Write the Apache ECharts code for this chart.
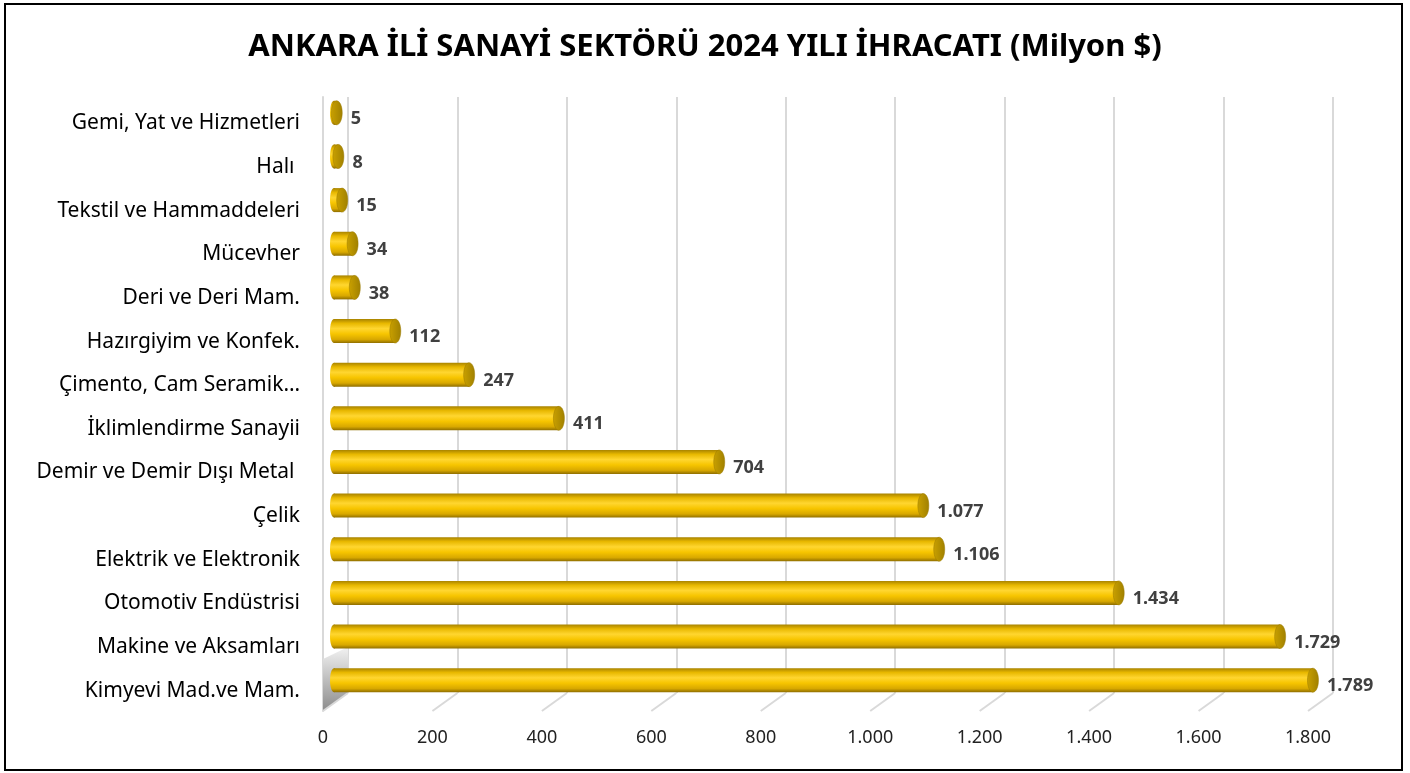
<!DOCTYPE html>
<html><head><meta charset="utf-8">
<script src="https://cdn.jsdelivr.net/npm/echarts@6/dist/echarts.min.js"></script>
<style>
html,body{margin:0;padding:0;background:#fff;}
#chart{position:absolute;left:0;top:0;width:1410px;height:773px;}
#frame{position:absolute;left:4px;top:3px;width:1395px;height:764px;border:2px solid #000;pointer-events:none;}
</style></head>
<body>
<div id="chart"></div>
<div id="frame"></div>
<script>
const titleText = "ANKARA İLİ SANAYİ SEKTÖRÜ 2024 YILI İHRACATI (Milyon $)";
const categories = ["Gemi, Yat ve Hizmetleri","Halı ","Tekstil ve Hammaddeleri","Mücevher","Deri ve Deri Mam.","Hazırgiyim ve Konfek.","Çimento, Cam Seramik…","İklimlendirme Sanayii","Demir ve Demir Dışı Metal ","Çelik","Elektrik ve Elektronik","Otomotiv Endüstrisi","Makine ve Aksamları","Kimyevi Mad.ve Mam."];
const values = [5,8,15,34,38,112,247,411,704,1077,1106,1434,1729,1789];
const axisMin = 0, axisMax = 1800, axisStep = 200;
const tickValues = [0,200,400,600,800,1000,1200,1400,1600,1800];

function fmt(v){ return String(v).replace(/\B(?=(\d{3})+(?!\d))/g,'.'); }

const chart = echarts.init(document.getElementById('chart'));
const FONT = "'Noto Sans', sans-serif";

const bodyGrad = () => new echarts.graphic.LinearGradient(0,0,0,1,[
  {offset:0,color:'#a88300'},{offset:0.18,color:'#e8b800'},{offset:0.4,color:'#ffd630'},
  {offset:0.62,color:'#f7c500'},{offset:0.85,color:'#d8a800'},{offset:1,color:'#8f6e00'}]);
const capGrad = () => new echarts.graphic.LinearGradient(0,0,1,0,[
  {offset:0,color:'#c9a000'},{offset:1,color:'#a08000'}]);

chart.setOption({
  animation:false,
  title:{text:titleText,left:'center',top:27,textStyle:{fontFamily:FONT,fontWeight:'bold',fontSize:31,color:'#000'}},
  grid:[
    {left:334,top:91,width:985,height:611},
    {left:348,top:97,width:985,height:596},
    {left:323,top:97,width:985,height:614}
  ],
  xAxis:[
    {gridIndex:0,type:'value',min:axisMin,max:axisMax,interval:axisStep,show:false},
    {gridIndex:1,type:'value',min:axisMin,max:axisMax,interval:axisStep,
      axisLine:{show:false},axisTick:{show:false},axisLabel:{show:false},
      splitLine:{show:true,lineStyle:{color:'#d9d9d9',width:2}}},
    {gridIndex:2,type:'value',min:axisMin,max:axisMax,interval:axisStep,
      axisLine:{show:false},axisTick:{show:false},splitLine:{show:false},
      axisLabel:{margin:18,formatter:fmt,fontFamily:FONT,fontSize:18,color:'#222'}}
  ],
  yAxis:[
    {gridIndex:0,type:'category',inverse:true,data:categories,
      axisLine:{show:false},axisTick:{show:false},splitLine:{show:false},
      axisLabel:{margin:34,fontFamily:FONT,fontSize:21,color:'#000',verticalAlign:'top',padding:[0,0,0,0]}},
    {gridIndex:1,type:'value',min:0,max:1,show:false},
    {gridIndex:2,type:'value',min:0,max:1,axisLine:{show:true,lineStyle:{color:'#d9d9d9',width:2}},
      axisTick:{show:false},axisLabel:{show:false},splitLine:{show:false}}
  ],
  series:[
    {type:'custom',xAxisIndex:1,yAxisIndex:1,silent:true,z:1,
      data:tickValues.map(v=>[v,0]),
      renderItem:function(params,api){
        const p = api.coord([api.value(0),0]);
        const q = [p[0]-25,p[1]+18];
        const ch = [{type:'line',shape:{x1:p[0],y1:p[1],x2:q[0],y2:q[1]},style:{stroke:'#d9d9d9',lineWidth:2}}];
        if(api.value(0)===axisMin){
          ch.unshift({type:'polygon',shape:{points:[[q[0],q[1]],[p[0],p[1]],[p[0],p[1]-46],[q[0],q[1]-52]]},
            style:{fill:new echarts.graphic.LinearGradient(0,0,0,1,[{offset:0,color:'#f2f2f2'},{offset:1,color:'#8c8c8c'}])}});
        }
        return {type:'group',children:ch};
      }},
    {type:'custom',xAxisIndex:0,yAxisIndex:0,z:5,
      data:values.map((v,i)=>[v,i]),
      encode:{x:0,y:1},
      renderItem:function(params,api){
        const v = api.value(0), c = api.value(1);
        const s = api.coord([0,c]), e = api.coord([v,c]);
        const h = 24, y0 = s[1]-h/2;
        return {type:'group',children:[
          {type:'ellipse',shape:{cx:s[0],cy:s[1],rx:4,ry:h/2},style:{fill:bodyGrad()}},
          {type:'rect',shape:{x:s[0],y:y0,width:Math.max(e[0]-s[0],0),height:h},style:{fill:bodyGrad()}},
          {type:'ellipse',shape:{cx:e[0],cy:s[1],rx:5.5,ry:h/2},style:{fill:capGrad(),stroke:'#9a7a00',lineWidth:0.5}},
          {type:'text',style:{x:e[0]+14,y:s[1]+6,text:fmt(v),fill:'#404040',font:"bold 18px 'Noto Sans', sans-serif",verticalAlign:'middle',align:'left'}}
        ]};
      }}
  ]
});
</script>
</body></html>
